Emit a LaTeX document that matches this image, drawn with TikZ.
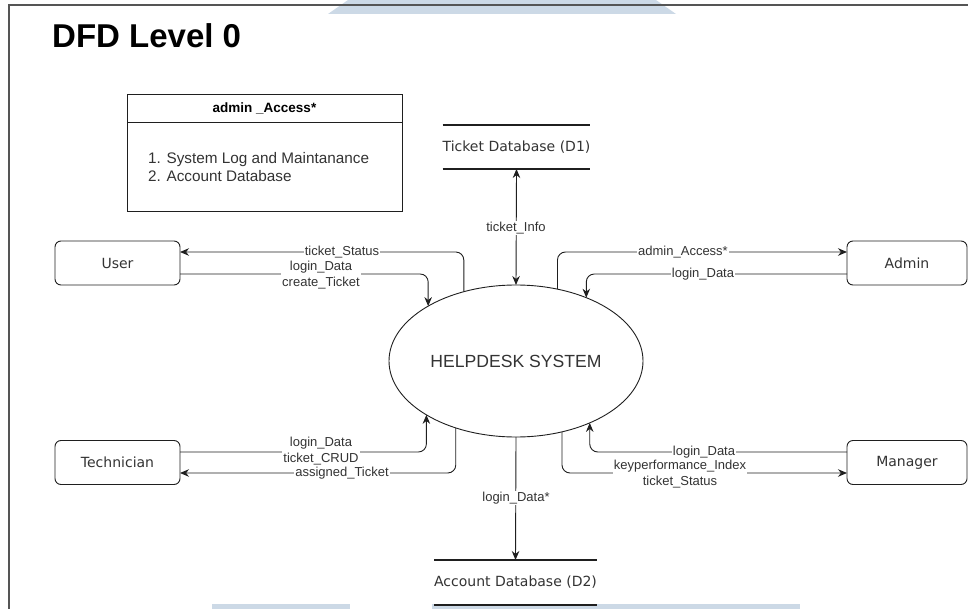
\documentclass[tikz,border=0pt]{standalone}
\usepackage{fontspec}
\setmainfont{Liberation Sans}
\newfontfamily\dejavu{DejaVu Sans}
\usetikzlibrary{arrows.meta,shapes.geometric}

\definecolor{inkline}{HTML}{1F1F1F}
\definecolor{inktext}{HTML}{333333}
\definecolor{pageframe}{HTML}{555555}
\definecolor{bandblue}{HTML}{CCD9E6}

\tikzset{
  entity/.style={draw=inkline, line width=0.9pt, rounded corners=6pt,
    minimum width=125pt, minimum height=44pt, inner sep=0pt, outer sep=0pt,
    font=\dejavu\fontsize{14}{16}\selectfont, text=inktext},
  process/.style={draw=inkline, line width=0.9pt, ellipse,
    minimum width=254pt, minimum height=152pt, inner sep=0pt, outer sep=0pt,
    font=\fontsize{17.6}{19}\selectfont, text=inktext},
  datastore/.style={minimum width=141pt, minimum height=44pt, inner sep=0pt,
    outer sep=0pt, font=\dejavu\fontsize{14}{16}\selectfont, text=inktext},
  storeline/.style={draw=inkline, line width=2.4pt},
  flow/.style={draw=inkline, line width=0.9pt, rounded corners=8pt,
    -{Stealth[length=9pt,width=7.5pt]}},
  biflow/.style={draw=inkline, line width=0.9pt,
    {Stealth[length=9pt,width=7.5pt]}-{Stealth[length=9pt,width=7.5pt]}},
  flowlabel/.style={fill=white, inner sep=1pt, align=center,
    font=\fontsize{13}{16}\selectfont, text=inktext},
}

\begin{document}
\begin{tikzpicture}[x=1pt,y=-1pt]
\useasboundingbox (0,0) rectangle (968,609);

% faint page decoration
\fill[bandblue] (328,14) -- (348,0) -- (656,0) -- (676,14) -- cycle;
\fill[bandblue] (212,604) rectangle (350,609);
\fill[bandblue] (432,604) rectangle (800,609);

% page frame
\draw[pageframe, line width=1.2pt] (9,609) -- (9,5) -- (968,5);

% title
\node[anchor=base west, font=\bfseries\fontsize{33}{36}\selectfont, inner sep=0pt] (title) at (52,48) {DFD Level 0};

% legend box for admin access
\node[draw=inkline, line width=0.9pt, anchor=north west, minimum width=275pt,
      minimum height=117pt, inner sep=0pt, outer sep=0pt] (legend) at (127,94) {};
\coordinate (legendsplitL) at (127,122);
\coordinate (legendsplitR) at (402,122);
\draw[inkline, line width=0.9pt] (legendsplitL) -- (legendsplitR);
\node[font=\bfseries\fontsize{13.5}{16}\selectfont, text=black] (legendhead) at (264.5,108) {admin \_Access*};
\node[anchor=west, align=left, inner sep=0pt, font=\fontsize{15.3}{18}\selectfont, text=inktext]
  (legendbody) at (148,167) {1. System Log and Maintanance\\2. Account Database};

% central process
\node[process] (hd) at (516,361) {HELPDESK SYSTEM};

% external entities
\node[entity] (user) at (117.5,263) {User};
\node[entity] (tech) at (117.5,462.5) {Technician};
\node[entity, minimum width=120pt] (admin) at (907,263) {Admin};
\node[entity, minimum width=120pt] (mgr) at (907,462.5) {Manager};

% data stores
\node[datastore] (d1) at (516.5,147) {Ticket Database (D1)};
\draw[storeline] (d1.north west) -- (d1.north east);
\draw[storeline] (d1.south west) -- (d1.south east);
\node[datastore, minimum height=45pt] (d2) at (515.5,582.5) {Account Database (D2)};
\draw[storeline] (d2.north west) -- (d2.north east);
\draw[storeline] (d2.south west) -- (d2.south east);

% flows: ticket database
\draw[biflow] (hd.north) -- (d1.south);
\node[flowlabel] (lTicketInfo) at (516,228) {ticket\_Info};

% flows: account database
\draw[flow] (hd.south) -- (d2.north);
\node[flowlabel] (lLoginStar) at (516,498) {login\_Data*};

% flows: user
\draw[flow] (hd.127.5) |- ([yshift=11pt]user.east);
\draw[flow] ([yshift=-11pt]user.east) -| (hd.148.65);
\node[flowlabel] (lUserStatus) at (342,252) {ticket\_Status};
\node[flowlabel] (lUserIn) at (321,275) {login\_Data\\create\_Ticket};

% flows: admin
\draw[flow] (hd.60.3) |- ([yshift=11pt]admin.west);
\draw[flow] ([yshift=-11pt]admin.west) -| (hd.42.8);
\node[flowlabel] (lAdminAccess) at (683,252) {admin\_Access*};
\node[flowlabel] (lAdminLogin) at (703,274) {login\_Data};

% flows: technician
\draw[flow] ([yshift=10.5pt]tech.east) -| (hd.211.35);
\draw[flow] (hd.228.8) |- ([yshift=-10.5pt]tech.east);
\node[flowlabel] (lTechIn) at (321,451) {login\_Data\\ticket\_CRUD};
\node[flowlabel] (lTechOut) at (342,473) {assigned\_Ticket};

% flows: manager
\draw[flow] ([yshift=10.5pt]mgr.west) -| (hd.320.1);
\draw[flow] (hd.303) |- ([yshift=-10.5pt]mgr.west);
\node[flowlabel] (lMgrLogin) at (704,452) {login\_Data};
\node[flowlabel] (lMgrOut) at (680,474) {keyperformance\_Index\\ticket\_Status};
\end{tikzpicture}
\end{document}
